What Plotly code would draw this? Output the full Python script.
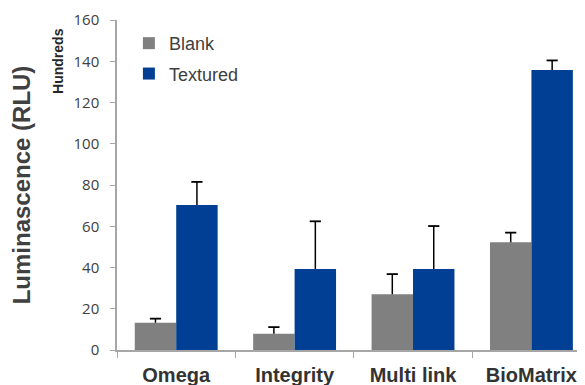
import plotly.graph_objects as go

categories = ["Omega", "Integrity", "Multi link", "BioMatrix"]
blank = [13.2, 7.9, 27.0, 52.2]
blank_err = [2.0, 3.2, 9.8, 4.7]
textured = [70.3, 39.3, 39.3, 135.8]
textured_err = [11.2, 23.1, 20.8, 4.6]
y_ticks = [0, 20, 40, 60, 80, 100, 120, 140, 160]

blank_top = [v + e for v, e in zip(blank, blank_err)]
textured_top = [v + e for v, e in zip(textured, textured_err)]

err_style = dict(type="data", symmetric=False, color="#000000", thickness=1.5, width=0)

fig = go.Figure()
fig.add_trace(go.Bar(
    name="Blank", x=categories, y=blank, legendgroup="a",
    marker=dict(color="#808080", line=dict(width=0)),
    error_y=dict(array=blank_err, arrayminus=[0] * 4, **err_style),
))
fig.add_trace(go.Bar(
    name="Textured", x=categories, y=textured, legendgroup="b",
    marker=dict(color="#003F94", line=dict(width=0)),
    error_y=dict(array=textured_err, arrayminus=[0] * 4, **err_style),
))
# caps on top of error bars
for tops, grp in [(blank_top, "a"), (textured_top, "b")]:
    fig.add_trace(go.Scatter(
        x=categories, y=tops, mode="markers", showlegend=False, hoverinfo="skip",
        legendgroup=grp,
        marker=dict(symbol="line-ew", size=8, color="#000000",
                    line=dict(width=1.8, color="#000000")),
    ))

fig.update_layout(
    width=585, height=385,
    margin=dict(l=109, r=0, t=12, b=43),
    paper_bgcolor="white", plot_bgcolor="white",
    barmode="group", bargap=0.3, bargroupgap=0,
    scattermode="group", scattergap=0.3,
    font=dict(family="Liberation Sans, Arial, sans-serif", color="#404040"),
    showlegend=True,
    legend=dict(x=0.025, y=0.985, xanchor="left", yanchor="top", traceorder="grouped",
                tracegroupgap=4,
                bgcolor="rgba(0,0,0,0)", font=dict(size=18, color="#404040"),
                itemwidth=30),
    xaxis=dict(
        type="category", range=[-0.5, 3.52],
        showline=True, linecolor="#A6A6A6", linewidth=1.5,
        ticks="outside", tickson="boundaries", ticklen=6, tickcolor="#A6A6A6",
        ticklabelstandoff=6,
        tickvals=categories, ticktext=["<b>" + c + "</b>" for c in categories],
        tickfont=dict(size=20, color="#333333"),
        showgrid=False, zeroline=False,
    ),
    yaxis=dict(
        range=[0, 160], tickvals=y_ticks,
        showline=True, linecolor="#A6A6A6", linewidth=1.5,
        ticks="outside", ticklen=5, tickcolor="#A6A6A6", ticklabelstandoff=8,
        tickfont=dict(size=15, color="#404040", family="Open Sans, sans-serif"),
        showgrid=False, zeroline=False,
        title=dict(text="<b>Luminascence (RLU)</b>", font=dict(size=24, color="#404040"),
                   standoff=40),
    ),
)

fig.add_annotation(
    text="<b>Hundreds</b>", xref="paper", yref="paper",
    x=-0.124, y=0.876, xanchor="center", yanchor="middle",
    textangle=-90, showarrow=False,
    font=dict(size=14, color="#262626"),
)

fig.write_html("out.html")
